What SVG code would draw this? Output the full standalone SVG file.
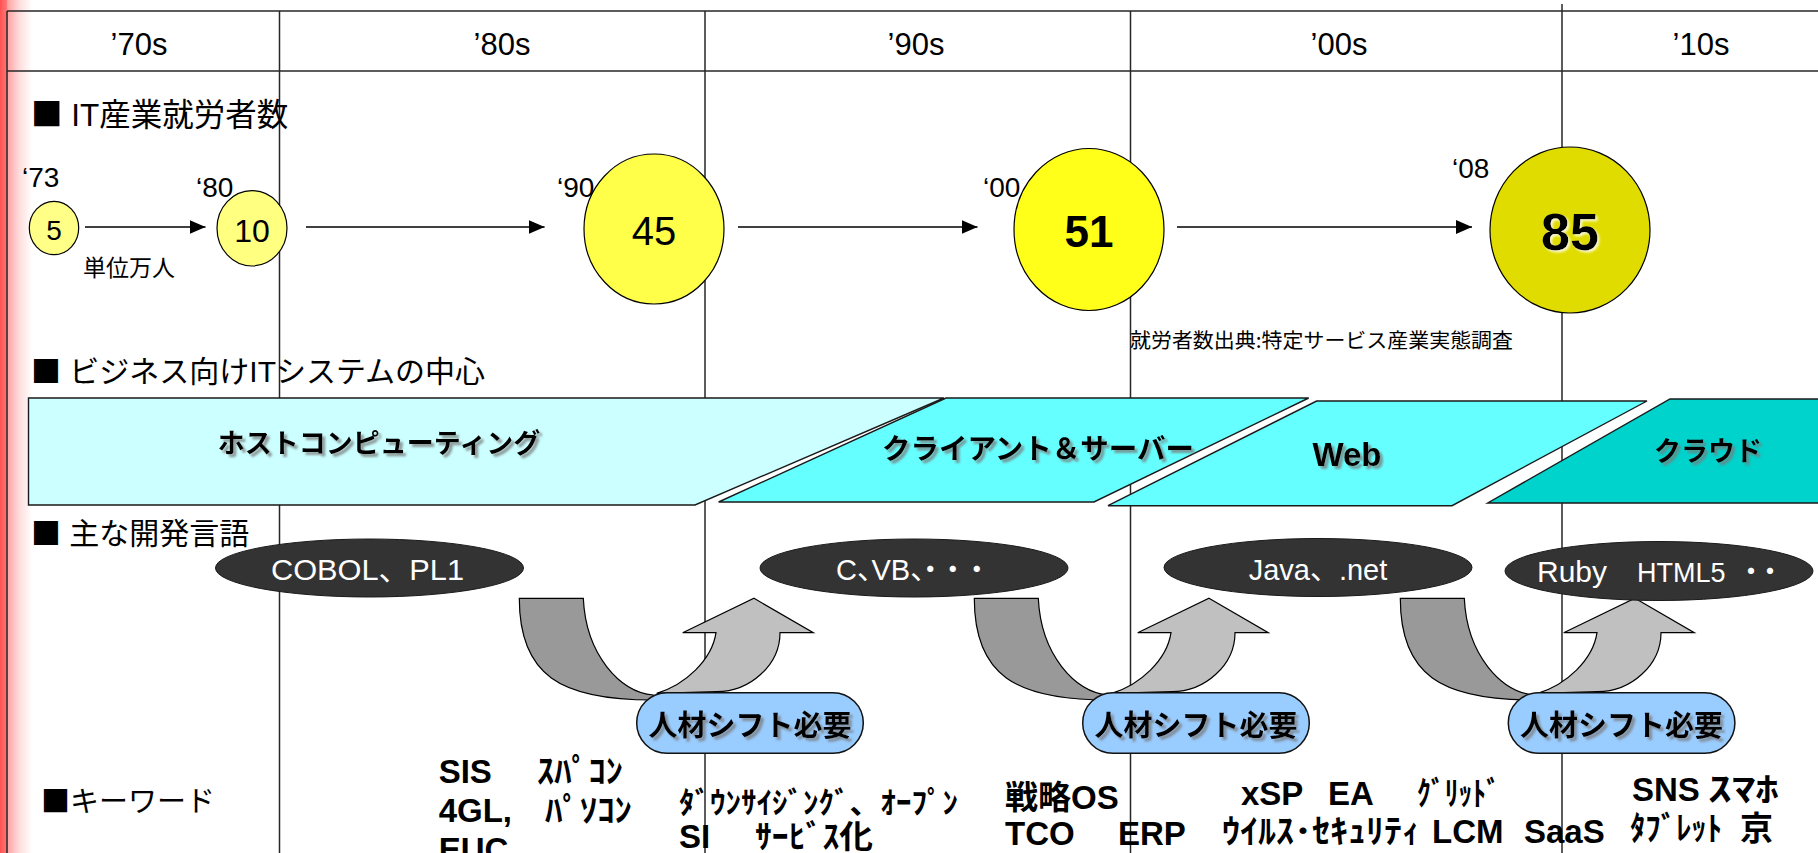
<svg xmlns="http://www.w3.org/2000/svg" width="1818" height="853" viewBox="0 0 1818 853">
<defs>
<linearGradient id="redEdge" x1="0" y1="0" x2="1" y2="0">
<stop offset="0" stop-color="#ff5252"/>
<stop offset="0.2" stop-color="#ff7676"/>
<stop offset="0.24" stop-color="#ffa4a4"/>
<stop offset="0.6" stop-color="#ffdcdc"/>
<stop offset="1" stop-color="#ffffff"/>
</linearGradient>
<marker id="ah" markerUnits="userSpaceOnUse" markerWidth="16" markerHeight="14" refX="16" refY="7" orient="auto">
<path d="M0,0 L16,7 L0,14 Z" fill="#000"/>
</marker>
<filter id="ts" x="-10%" y="-30%" width="130%" height="170%">
<feGaussianBlur in="SourceAlpha" stdDeviation="1.2"/>
<feOffset dx="2.5" dy="2.5" result="o"/>
<feFlood flood-color="#7a7a7a" flood-opacity="0.75"/>
<feComposite in2="o" operator="in"/>
<feMerge><feMergeNode/><feMergeNode in="SourceGraphic"/></feMerge>
</filter>
<filter id="ts2" x="-10%" y="-30%" width="130%" height="170%">
<feGaussianBlur in="SourceAlpha" stdDeviation="1.2"/>
<feOffset dx="2" dy="2" result="o"/>
<feFlood flood-color="#ffffff" flood-opacity="0.8"/>
<feComposite in2="o" operator="in"/>
<feMerge><feMergeNode/><feMergeNode in="SourceGraphic"/></feMerge>
</filter>
<path id="darkBand" d="M519.3,598.3 L583.3,598.3 C586,655 620,692 653.3,695 L653.3,700 C560,700 519.3,675 519.3,598.3 Z"/>
<path id="lightArrow" d="M754,598.3 L813.3,632.7 L780,632.7 C780,665 750,691.7 716.7,691.7 L656.7,693.3 C685,685 712,660 716,632.7 L682.7,632.7 Z"/>
</defs>
<style>
.grid{stroke:#262626;stroke-width:1.5;fill:none}
.lat{font-family:"Liberation Sans","Noto Sans CJK JP",sans-serif}
.jp{font-family:"Noto Sans CJK JP",sans-serif}
.hdr{font-size:31px;fill:#000;text-anchor:middle}
.yr{font-size:28px;fill:#000}
.lbl{fill:#000}
.circ{stroke:#000;stroke-width:1.2}
.num{text-anchor:middle;fill:#000}
.conn{stroke:#000;stroke-width:1.6;fill:none;marker-end:url(#ah)}
.band{stroke:#1a1a1a;stroke-width:1.4}
.bandtxt{font-weight:700;fill:#000;text-anchor:middle}
.lang{fill:#333333;stroke:#1a1a1a;stroke-width:1}
.langtxt{fill:#fff}
.halt{font-feature-settings:"halt"}
.dark{fill:#999999;stroke:#000;stroke-width:1.2}
.light{fill:#c0c0c0;stroke:#000;stroke-width:1.2}
.pill{fill:#99ccff;stroke:#111;stroke-width:1.5}
.pilltxt{font-size:29px;font-weight:700;fill:#000;text-anchor:middle}
.kw{font-weight:700;fill:#000}
</style>
<rect x="0" y="0" width="1818" height="853" fill="#ffffff"/>
<rect x="0" y="0" width="32" height="853" fill="url(#redEdge)"/>

<g id="grid">
<line class="grid" x1="7" y1="11" x2="1818" y2="11"/>
<line class="grid" x1="7" y1="71" x2="1818" y2="71"/>
<line class="grid" x1="7" y1="11" x2="7" y2="853"/>
<line class="grid" x1="279.5" y1="11" x2="279.5" y2="853"/>
<line class="grid" x1="705" y1="11" x2="705" y2="853"/>
<line class="grid" x1="1130.5" y1="11" x2="1130.5" y2="853"/>
<line class="grid" x1="1562" y1="4" x2="1562" y2="853"/>
</g>

<g id="header">
<text class="lat hdr" x="139" y="55">’70s</text>
<text class="lat hdr" x="502" y="55">’80s</text>
<text class="lat hdr" x="916" y="55">’90s</text>
<text class="lat hdr" x="1339" y="55">’00s</text>
<text class="lat hdr" x="1701" y="55">’10s</text>
</g>

<g id="section-labels">
<text class="lat lbl" x="31" y="126" font-size="31.5"><tspan class="jp">■</tspan> IT産業就労者数</text>
<text class="lat lbl" x="31" y="382" font-size="30"><tspan class="jp">■</tspan> ビジネス向けITシステムの中心</text>
<text class="lat lbl" x="31" y="544" font-size="30"><tspan class="jp">■</tspan> 主な開発言語</text>
<text class="jp" x="41" y="812" font-size="29">■キーワード</text>
<text class="jp" x="83" y="276" font-size="23">単位万人</text>
<text class="jp" x="1130" y="348" font-size="20.5" textLength="383" lengthAdjust="spacingAndGlyphs">就労者数出典:特定サービス産業実態調査</text>
</g>

<g id="connectors">
<line class="conn" x1="85" y1="227" x2="205.5" y2="227"/>
<line class="conn" x1="306" y1="227" x2="544.6" y2="227"/>
<line class="conn" x1="738" y1="227" x2="977.5" y2="227"/>
<line class="conn" x1="1177" y1="227" x2="1472" y2="227"/>
<use href="#darkBand" class="dark"/>
<use href="#lightArrow" class="light"/>
<use href="#darkBand" class="dark" transform="translate(455,0)"/>
<use href="#lightArrow" class="light" transform="translate(455,0)"/>
<use href="#darkBand" class="dark" transform="translate(881,0)"/>
<use href="#lightArrow" class="light" transform="translate(881,0)"/>
</g>

<g id="n1973">
<ellipse class="circ" cx="54" cy="228" rx="24.7" ry="26.7" fill="#ffff88"/>
<text class="lat yr" x="22" y="187">‘73</text>
<text class="lat num" x="54" y="240" font-size="28">5</text>
</g>
<g id="n1980">
<ellipse class="circ" cx="252" cy="228.3" rx="35" ry="37.7" fill="#ffff80"/>
<text class="lat yr" x="196" y="197">‘80</text>
<text class="lat num" x="252" y="242" font-size="32">10</text>
</g>
<g id="n1990">
<ellipse class="circ" cx="654" cy="229" rx="70" ry="75" fill="#ffff4a"/>
<text class="lat yr" x="557" y="197">‘90</text>
<text class="lat num" x="654" y="245" font-size="40">45</text>
</g>
<g id="n2000">
<ellipse class="circ" cx="1089" cy="229.5" rx="75" ry="81" fill="#ffff1a"/>
<text class="lat yr" x="983" y="197">‘00</text>
<text class="lat num" x="1089" y="246.5" font-size="44" font-weight="700">51</text>
</g>
<g id="n2008">
<ellipse class="circ" cx="1570" cy="230" rx="80" ry="83" fill="#e0dc00"/>
<text class="lat yr" x="1452" y="178">‘08</text>
<text class="lat num" x="1570" y="250" font-size="52" font-weight="700" filter="url(#ts2)">85</text>
</g>

<g id="band-host">
<polygon class="band" points="28.5,398 944,398 695,505 28.5,505" fill="#ccffff"/>
<text class="jp bandtxt" x="379" y="453" font-size="27" filter="url(#ts)">ホストコンピューティング</text>
</g>
<g id="band-cs">
<polygon class="band" points="946,398 1308.7,398 1094,502 718.6,502" fill="#66ffff"/>
<text class="jp bandtxt" x="1038" y="459" font-size="28.5" filter="url(#ts)">クライアント＆サーバー</text>
</g>
<g id="band-web">
<polygon class="band" points="1316.6,401 1647,401 1452,505.7 1108,505.7" fill="#66ffff"/>
<text class="lat bandtxt" x="1347" y="466" font-size="33" filter="url(#ts)">Web</text>
</g>
<g id="band-cloud">
<polygon class="band" points="1670,399 1830,399 1830,503 1487.7,503" fill="#00d2cc"/>
<text class="jp bandtxt" x="1708" y="461" font-size="27" filter="url(#ts)">クラウド</text>
</g>

<g id="lang-cobol">
<ellipse class="lang" cx="369.5" cy="568" rx="154" ry="29"/>
<text class="lat langtxt" x="271" y="580" font-size="30" textLength="193" lengthAdjust="spacingAndGlyphs">COBOL、PL1</text>
</g>
<g id="lang-c">
<ellipse class="lang" cx="914" cy="568" rx="154" ry="29"/>
<text class="lat langtxt" x="836" y="580" font-size="29">C<tspan class="halt">、</tspan>VB<tspan class="halt">、</tspan><tspan class="halt" x="923 945.5 969.5">・・・</tspan></text>
</g>
<g id="lang-java">
<ellipse class="lang" cx="1318" cy="567.5" rx="154" ry="29"/>
<text class="lat langtxt" x="1318" y="580" font-size="29" text-anchor="middle">Java、.net</text>
</g>
<g id="lang-ruby">
<ellipse class="lang" cx="1659" cy="571" rx="154" ry="29.5"/>
<text class="lat langtxt" x="1537" y="582" font-size="30">Ruby<tspan x="1637" font-size="27">HTML5</tspan><tspan class="halt" x="1743.75 1762.75" font-size="29">・・</tspan></text>
</g>

<g id="shift1">
<rect class="pill" x="636.7" y="692.7" width="226.6" height="60.6" rx="30.3"/>
<text class="jp pilltxt" x="750" y="736" filter="url(#ts)">人材シフト必要</text>
</g>
<g id="shift2">
<rect class="pill" x="1082.7" y="692.7" width="226.6" height="60.6" rx="30.3"/>
<text class="jp pilltxt" x="1196" y="736" filter="url(#ts)">人材シフト必要</text>
</g>
<g id="shift3">
<rect class="pill" x="1508.3" y="692.7" width="226.6" height="60.6" rx="30.3"/>
<text class="jp pilltxt" x="1621.6" y="736" filter="url(#ts)">人材シフト必要</text>
</g>

<g id="keywords" font-size="33">
<text class="lat kw" x="438.7" y="783">SIS</text>
<text class="lat kw" x="537" y="783" textLength="86" lengthAdjust="spacingAndGlyphs">ｽﾊﾟｺﾝ</text>
<text class="lat kw" x="438.7" y="821.7">4GL,</text>
<text class="lat kw" x="545" y="821.7" textLength="87" lengthAdjust="spacingAndGlyphs">ﾊﾟｿｺﾝ</text>
<text class="lat kw" x="438.7" y="861">EUC</text>
<text class="lat kw" x="679" y="813" font-size="30" textLength="279" lengthAdjust="spacingAndGlyphs">ﾀﾞｳﾝｻｲｼﾞﾝｸﾞ、ｵｰﾌﾟﾝ</text>
<text class="lat kw" x="679" y="848">SI</text>
<text class="lat kw" x="755" y="848" font-size="32" textLength="118" lengthAdjust="spacingAndGlyphs">ｻｰﾋﾞｽ化</text>
<text class="lat kw" x="1005" y="809">戦略OS</text>
<text class="lat kw" x="1005" y="845">TCO</text>
<text class="lat kw" x="1118" y="845">ERP</text>
<text class="lat kw" x="1241" y="805">xSP</text>
<text class="lat kw" x="1328" y="805">EA</text>
<text class="lat kw" x="1417" y="805" textLength="83" lengthAdjust="spacingAndGlyphs">ｸﾞﾘｯﾄﾞ</text>
<text class="lat kw" x="1222" y="843" textLength="198" lengthAdjust="spacingAndGlyphs">ｳｲﾙｽ･ｾｷｭﾘﾃｨ</text>
<text class="lat kw" x="1432" y="843">LCM</text>
<text class="lat kw" x="1524" y="843">SaaS</text>
<text class="lat kw" x="1632" y="801">SNS</text>
<text class="lat kw" x="1708" y="801" textLength="71" lengthAdjust="spacingAndGlyphs">ｽﾏﾎ</text>
<text class="lat kw" x="1630" y="840" textLength="92" lengthAdjust="spacingAndGlyphs">ﾀﾌﾞﾚｯﾄ</text>
<text class="lat kw" x="1740" y="840">京</text>
</g>
</svg>
